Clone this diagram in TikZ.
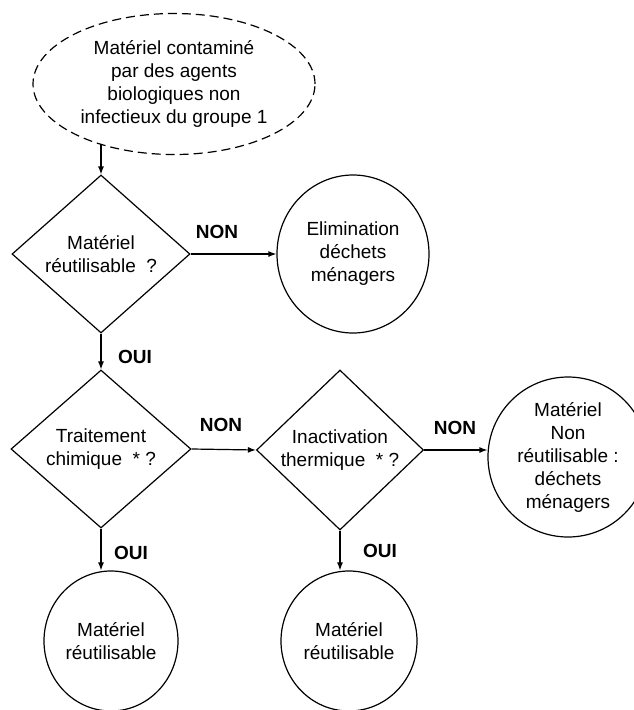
\documentclass[tikz,border=0pt]{standalone}
\usepackage{fontspec}
\setmainfont{Liberation Sans}
\usetikzlibrary{shapes,arrows.meta,positioning,calc}

\begin{document}
\begin{tikzpicture}[x=1pt,y=-1pt,
    txt/.style={font=\fontsize{19}{23}\selectfont,align=center,inner sep=0pt},
    term/.style={txt,draw,ellipse,line width=1.2pt},
    decision/.style={txt,draw,diamond,line width=1.2pt},
    lbl/.style={font=\fontsize{19}{23}\selectfont\bfseries,inner sep=0pt},
    arr/.style={line width=1.2pt,-{Latex[length=8pt,width=6pt]}}]
    \useasboundingbox (0,0) rectangle (633,710);

    % Start
    \node[term,dash pattern=on 9pt off 5pt,minimum width=282pt,minimum height=141pt] (start) at (174,84)
        {Matériel contaminé\\par des agents\\biologiques non\\infectieux du groupe 1};

    % Decisions
    \node[decision,shape aspect=1.13,minimum width=178pt,minimum height=158pt] (reuse) at (101,254)
        {Matériel\\réutilisable~~?};
    \node[decision,shape aspect=1.13,minimum width=180pt,minimum height=158pt] (chem) at (101,449)
        {Traitement\\chimique~~* ?};
    \node[decision,shape aspect=1.04,minimum width=167pt,minimum height=160pt] (therm) at (340,450)
        {Inactivation\\thermique~~* ?};

    % Outcomes
    \node[term,minimum width=152pt,minimum height=158pt] (elim) at (353,254)
        {Elimination\\déchets\\ménagers};
    \node[term,minimum width=160pt,minimum height=160pt] (waste) at (568,457)
        {Matériel\\Non\\réutilisable :\\déchets\\ménagers};
    \node[term,minimum width=134pt,minimum height=140pt] (okchem) at (111,641)
        {Matériel\\réutilisable};
    \node[term,minimum width=136pt,minimum height=140pt] (oktherm) at (349,641)
        {Matériel\\réutilisable};

    % Connectors
    \draw[arr] (start.219 -| reuse.north) -- (reuse.north);
    \draw[arr] (reuse.east) -- (reuse.east -| elim.west);
    \draw[arr] (reuse.south) -- (chem.north);
    \draw[arr] (chem.east) -- (therm.west);
    \draw[arr] (therm.east) -- (therm.east -| waste.west);
    \draw[arr] (chem.south) -- (chem.south |- okchem.north);
    \draw[arr] (therm.south) -- (therm.south |- oktherm.north);

    % Labels
    \node[lbl] (non1) at (217,232) {NON};
    \node[lbl] (non2) at (221,425) {NON};
    \node[lbl] (non3) at (455,428) {NON};
    \node[lbl] (oui1) at (135,357) {OUI};
    \node[lbl] (oui2) at (131,553) {OUI};
    \node[lbl] (oui3) at (380,551) {OUI};
\end{tikzpicture}
\end{document}
